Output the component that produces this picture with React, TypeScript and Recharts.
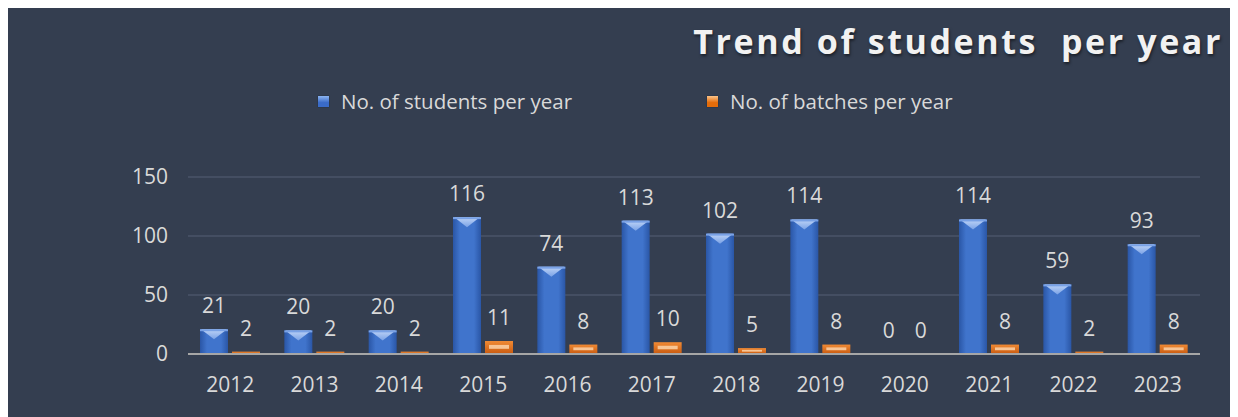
import React from "react";
import { BarChart, Bar, XAxis, YAxis, CartesianGrid, LabelList } from "recharts";

const years = ["2012", "2013", "2014", "2015", "2016", "2017", "2018", "2019", "2020", "2021", "2022", "2023"];
const students = [21, 20, 20, 116, 74, 113, 102, 114, 0, 114, 59, 93];
const batches = [2, 2, 2, 11, 8, 10, 5, 8, 0, 8, 2, 8];
const yTicks = [0, 50, 100, 150];

const data = years.map((y, i) => ({ year: y, students: students[i], batches: batches[i] }));

const BG = "#343e50";
const TEXT = "#d9d9d9";
const FONT = "'Open Sans', sans-serif";

const BlueBar = (props: any) => {
  const { x, y, width, height } = props;
  if (!height || height <= 0) return null;
  const tri = Math.min(width * 0.36, height);
  return (
    <g>
      <rect x={x} y={y} width={width} height={height} fill="url(#blueGrad)" />
      <polygon
        points={`${x + 1},${y} ${x + width - 1},${y} ${x + width / 2},${y + tri}`}
        fill="url(#blueTop)"
      />
      <rect x={x} y={y} width={width} height={2} fill="#7aa2e6" />
    </g>
  );
};

const OrangeBar = (props: any) => {
  const { x, y, width, height } = props;
  if (!height || height <= 0) return null;
  const band = Math.max(1, height * 0.3);
  return (
    <g>
      <rect x={x} y={y} width={width} height={height} fill="url(#orangeGrad)" />
      {height > 5 && (
        <rect x={x + 4} y={y + height * 0.3} width={width - 8} height={band} fill="#fbd2a8" opacity={0.85} />
      )}
    </g>
  );
};

const LegendContent = () => (
  <div style={{ position: "relative", width: 1224, height: 30, fontFamily: FONT, fontSize: 20.5, color: TEXT }}>
    <div style={{ position: "absolute", left: 310, top: 0, display: "flex", alignItems: "center", whiteSpace: "nowrap" }}>
      <span style={{ display: "inline-block", width: 11, height: 11, marginRight: 12, background: "linear-gradient(#8cb4f0, #3a6bc8 60%)", boxShadow: "0 0 1px #123" }} />
      No. of students per year
    </div>
    <div style={{ position: "absolute", left: 699, top: 0, display: "flex", alignItems: "center", whiteSpace: "nowrap" }}>
      <span style={{ display: "inline-block", width: 11, height: 11, marginRight: 12, background: "linear-gradient(#fbc48a, #e46c0a 60%)", boxShadow: "0 0 1px #123" }} />
      No. of batches per year
    </div>
  </div>
);

export default function App() {
  return (
    <div style={{ position: "relative", width: 1224, height: 409, background: BG }}>
      <div
        style={{
          position: "absolute",
          right: 9,
          top: 10,
          fontFamily: FONT,
          fontWeight: 700,
          fontSize: 34,
          letterSpacing: 2.6,
          color: "#f2f2f2",
          textShadow: "1px 2px 3px rgba(0,0,0,0.5)",
          whiteSpace: "nowrap",
        }}
      >
        Trend of students&nbsp; per year
      </div>
      <div style={{ position: "absolute", left: 0, top: 79 }}>
        <LegendContent />
      </div>
      <BarChart
        width={1224}
        height={409}
        data={data}
        margin={{ top: 169, right: 32, bottom: 0, left: 0 }}
        barSize={28}
        barGap={4}
        style={{ position: "absolute", left: 0, top: 0 }}
      >
        <defs>
          <linearGradient id="blueGrad" x1="0" y1="0" x2="1" y2="0">
            <stop offset="0%" stopColor="#2a56a6" />
            <stop offset="25%" stopColor="#4074cc" />
            <stop offset="75%" stopColor="#4074cc" />
            <stop offset="100%" stopColor="#2a56a6" />
          </linearGradient>
          <linearGradient id="blueTop" x1="0" y1="0" x2="0" y2="1">
            <stop offset="0%" stopColor="#c0d5f7" />
            <stop offset="100%" stopColor="#7aa2e6" />
          </linearGradient>
          <linearGradient id="orangeGrad" x1="0" y1="0" x2="0" y2="1">
            <stop offset="0%" stopColor="#f08a34" />
            <stop offset="100%" stopColor="#c85a10" />
          </linearGradient>
        </defs>
        <CartesianGrid vertical={false} stroke="#4a5568" strokeWidth={1.5} />
        <XAxis
          dataKey="year"
          axisLine={{ stroke: "#a6a6a6", strokeWidth: 2 }}
          tickLine={false}
          tick={{ fill: TEXT, fontSize: 21, fontFamily: FONT }}
          tickMargin={17}
          height={63}
          interval={0}
        />
        <YAxis
          domain={[0, 150]}
          ticks={yTicks}
          axisLine={false}
          tickLine={false}
          tick={{ fill: TEXT, fontSize: 21, fontFamily: FONT }}
          tickMargin={14}
          width={180}
        />
        <Bar dataKey="students" shape={<BlueBar />} isAnimationActive={false}>
          <LabelList dataKey="students" position="top" offset={16} fill={TEXT} fontSize={21} fontFamily={FONT} />
        </Bar>
        <Bar dataKey="batches" shape={<OrangeBar />} isAnimationActive={false}>
          <LabelList dataKey="batches" position="top" offset={16} fill={TEXT} fontSize={21} fontFamily={FONT} />
        </Bar>
      </BarChart>
    </div>
  );
}
